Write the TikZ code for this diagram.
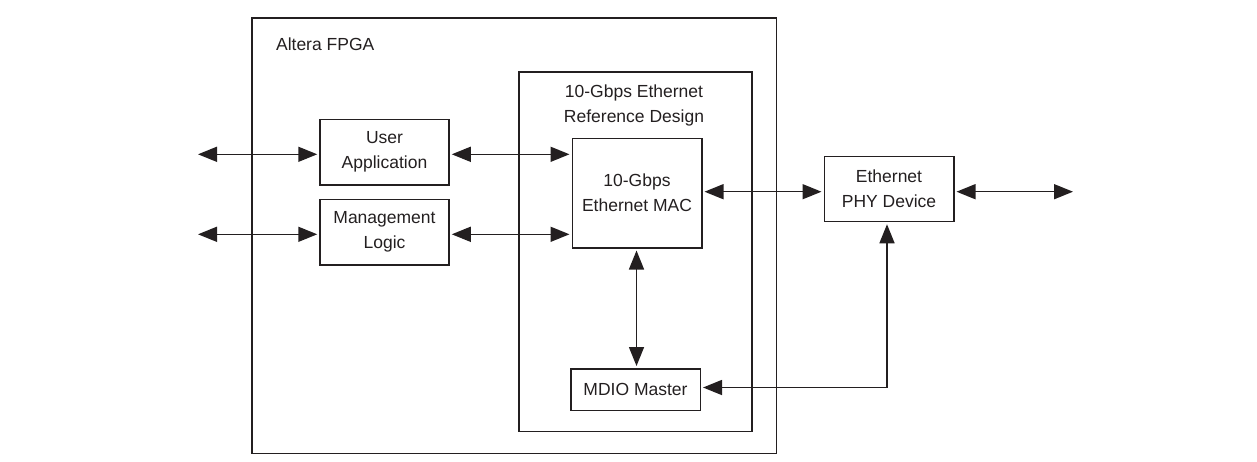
\documentclass[tikz,border=0pt]{standalone}
\usepackage{fontspec}
\setmainfont{Liberation Sans}
\usetikzlibrary{arrows.meta}
\definecolor{ink}{HTML}{231F20}
\begin{document}
\begin{tikzpicture}[x=1pt,y=-1pt,
  line width=1.5pt,
  every node/.style={font=\fontsize{17.5}{25}\selectfont, text=ink},
  block/.style={draw=ink, line width=1.5pt, rectangle, inner sep=0pt, align=center},
  frame/.style={draw=ink, line width=1.5pt},
  tip/.style={Triangle[length=19pt,width=15pt]},
  link/.style={draw=ink, line width=1.5pt, {Triangle[length=19pt,width=15pt]}-{Triangle[length=19pt,width=15pt]}, shorten <=2pt, shorten >=2pt}]
\useasboundingbox (0,0) rectangle (1257,461);

% enclosing boxes
\draw[frame] (252,18) rectangle (776.5,453.5);
\node[anchor=west] (fpga) at (272,44) {Altera FPGA};
\draw[frame] (519,72) rectangle (752,431.5);
\node[align=center] (refdes) at (634,105) {10-Gbps Ethernet\\Reference Design};

% functional blocks
\node[block, minimum width=129pt, minimum height=65.5pt] (user) at (384.5,152) {User\\Application};
\node[block, minimum width=129pt, minimum height=65.5pt] (mgmt) at (384.5,232) {Management\\Logic};
\node[block, minimum width=129.5pt, minimum height=109.5pt] (mac) at (637,193) {10-Gbps\\Ethernet MAC};
\node[block, minimum width=129.5pt, minimum height=41.5pt] (mdio) at (635.5,389.5) {MDIO Master};
\node[block, minimum width=129.5pt, minimum height=65pt] (phy) at (889,189) {Ethernet\\PHY Device};

% external ends
\coordinate (extU) at (196,154.3);
\coordinate (extM) at (196,234.3);
\coordinate (extR) at (1075,191.7);
\coordinate (bend) at (887,387.5);

% connectors
\draw[link] (extU) -- (extU -| user.west);
\draw[link] (extM) -- (extM -| mgmt.west);
\draw[link] (user.east |- extU) -- (mac.west |- extU);
\draw[link] (mgmt.east |- extM) -- (mac.west |- extM);
\draw[link] (mac.east |- extR) -- (phy.west |- extR);
\draw[link] (phy.east |- extR) -- (extR);
\draw[link] (mac.south -| 636.5,0) -- (mdio.north -| 636.5,0);
\draw[link] (mdio.east |- bend) -- (bend) -- (phy.south -| bend);
\end{tikzpicture}
\end{document}
